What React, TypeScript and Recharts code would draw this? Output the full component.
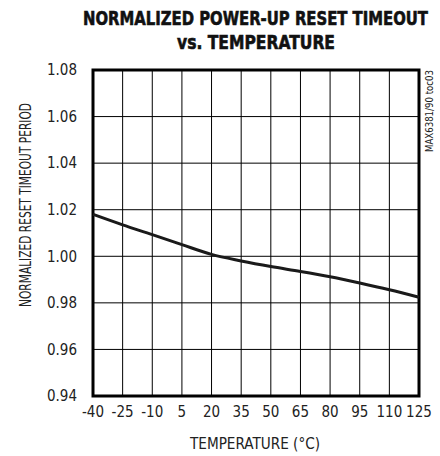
import React from 'react';
import { LineChart, Line, XAxis, YAxis, CartesianGrid, ReferenceArea } from 'recharts';

// temperature (°C) on the x axis
const temperatures = [-40, -25, -10, 5, 20, 35, 50, 65, 80, 95, 110, 125];
// normalized reset timeout period
const timeoutPeriod = [1.018, 1.0135, 1.0093, 1.005, 1.0008, 0.998, 0.9956, 0.9935, 0.9912, 0.9885, 0.9856, 0.9824];
const yTicks = [0.94, 0.96, 0.98, 1.0, 1.02, 1.04, 1.06, 1.08];

const chartData = temperatures.map((t, i) => ({ temp: t, period: timeoutPeriod[i] }));

const FONT = '"Liberation Sans Narrow", "DejaVu Sans Condensed", "Liberation Sans", sans-serif';
const TITLE_FONT = '"DejaVu Sans Condensed", "Liberation Sans Narrow", sans-serif';
const tickStyle = { fontSize: 15, fill: '#222', fontFamily: FONT };

const App: React.FC = () => {
  return (
    <div style={{ position: 'absolute', left: 0, top: 0, width: 440, height: 456, background: '#fff' }}>
      <LineChart width={440} height={456} data={chartData} margin={{ top: 70, right: 21, bottom: 0, left: 0 }}>
        <CartesianGrid stroke="#000" strokeWidth={1} />
        <XAxis
          dataKey="temp"
          type="number"
          domain={[-40, 125]}
          ticks={temperatures}
          interval={0}
          height={60}
          axisLine={false}
          tickLine={false}
          tickSize={0}
          tickMargin={10}
          tick={tickStyle}
        />
        <YAxis
          type="number"
          domain={[0.94, 1.08]}
          ticks={yTicks}
          interval={0}
          width={93}
          axisLine={false}
          tickLine={false}
          tickSize={0}
          tickMargin={16}
          tick={tickStyle}
          tickFormatter={(v) => Number(v).toFixed(2)}
        />
        <ReferenceArea x1={-40} x2={125} y1={0.94} y2={1.08} fill="none" fillOpacity={0} stroke="#000" strokeWidth={3} />
        <Line
          type="monotone"
          dataKey="period"
          stroke="#1a1a1a"
          strokeWidth={3}
          dot={false}
          activeDot={false}
          isAnimationActive={false}
        />
      </LineChart>
      <svg width={440} height={456} style={{ position: 'absolute', left: 0, top: 0, pointerEvents: 'none' }}>
        <g fontFamily={TITLE_FONT} fontWeight="bold" fill="#111" stroke="#111" strokeWidth={0.6}>
          <text x={83} y={25} fontSize={20} textLength={345} lengthAdjust="spacingAndGlyphs">
            NORMALIZED POWER-UP RESET TIMEOUT
          </text>
          <text x={177} y={49} fontSize={20} textLength={158} lengthAdjust="spacingAndGlyphs">
            vs. TEMPERATURE
          </text>
        </g>
        <g fontFamily={FONT} fill="#222">
          <text x={190} y={449} fontSize={16} textLength={130} lengthAdjust="spacingAndGlyphs">
            TEMPERATURE (°C)
          </text>
          <text
            transform="translate(31, 307) rotate(-90)"
            x={0}
            y={0}
            fontSize={15}
            textLength={204}
            lengthAdjust="spacingAndGlyphs"
          >
            NORMALIZED RESET TIMEOUT PERIOD
          </text>
          <text
            transform="translate(433, 152) rotate(-90)"
            x={0}
            y={0}
            fontSize={10}
            textLength={82}
            lengthAdjust="spacingAndGlyphs"
          >
            MAX6381/90 toc03
          </text>
        </g>
      </svg>
    </div>
  );
};

export default App;
